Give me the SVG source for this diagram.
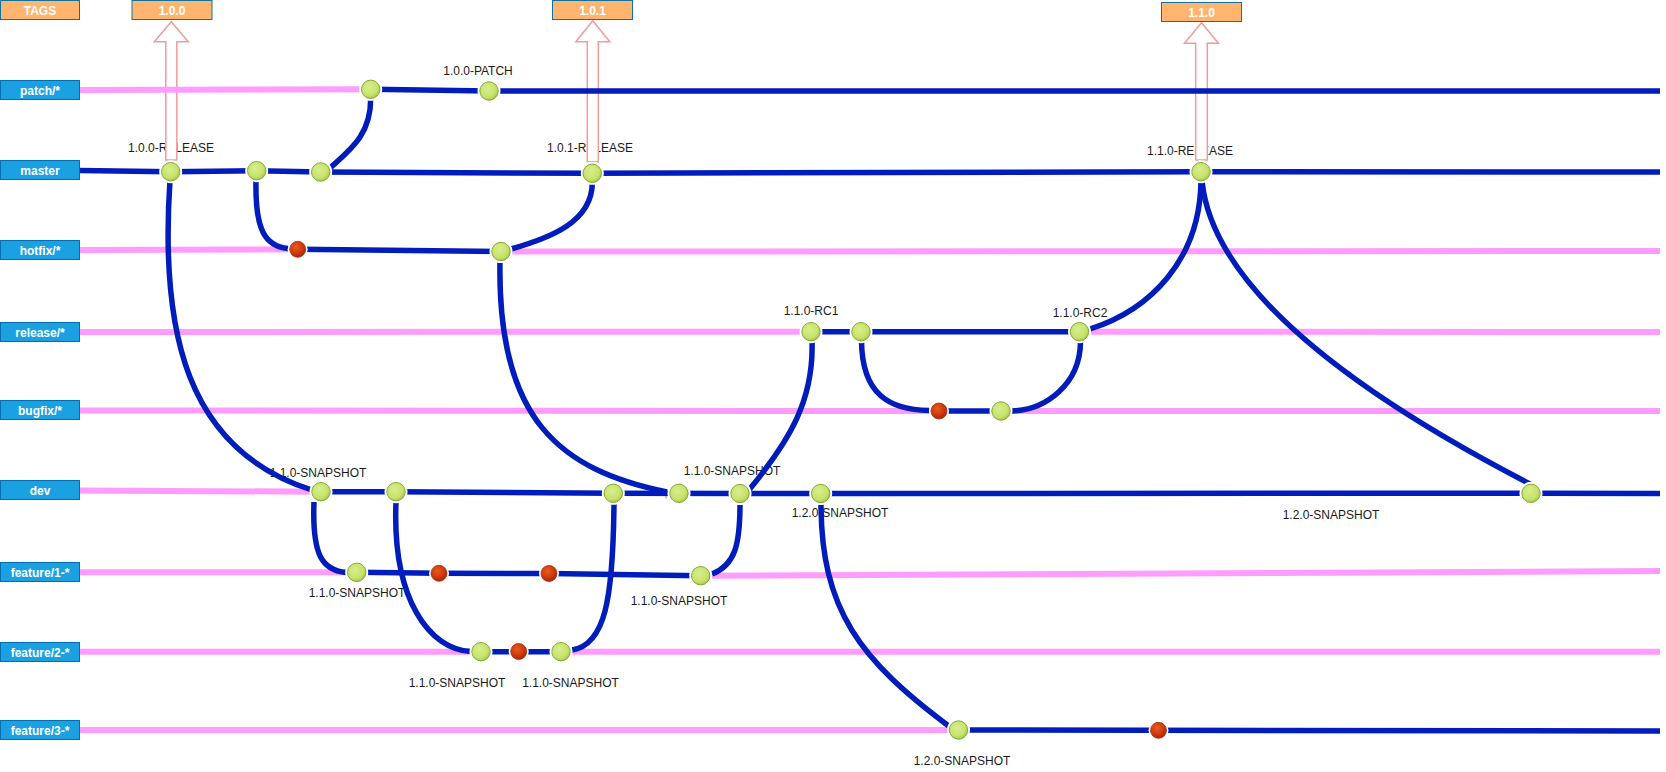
<svg xmlns="http://www.w3.org/2000/svg" width="1666" height="772" viewBox="0 0 1666 772">
<style>
.box{fill:#1BA1E2;stroke:#006EAF;stroke-width:1}
.tag{fill:#FFB570;stroke:#10739E;stroke-width:1}
.bt{font-family:"Liberation Sans",Arial,sans-serif;font-size:12px;font-weight:bold;fill:#fff;text-anchor:middle}
.lbl{font-family:"Liberation Sans",Arial,sans-serif;font-size:12px;fill:#1a1a1a;text-anchor:middle}
.arr{fill:#fff;stroke:#F19C99;stroke-width:1.5}
.pk{fill:none;stroke:#FF9CFF;stroke-width:6}
.bu{fill:none;stroke:#001DBC;stroke-width:5.5}
.halo{fill:#fff}
.g{fill:url(#gGreen);stroke:#86A83A;stroke-width:1}
.r{fill:url(#gRed);stroke:#A8300E;stroke-width:0.8}
</style>
<defs>
<radialGradient id="gGreen" cx="0.42" cy="0.38" r="0.65">
<stop offset="0" stop-color="#D8EF8E"/>
<stop offset="0.7" stop-color="#C6E26A"/>
<stop offset="1" stop-color="#A4C444"/>
</radialGradient>
<radialGradient id="gRed" cx="0.4" cy="0.35" r="0.7">
<stop offset="0" stop-color="#EA5A1E"/>
<stop offset="0.6" stop-color="#CC3A0C"/>
<stop offset="1" stop-color="#A32006"/>
</radialGradient>
</defs>
<rect width="1666" height="772" fill="#fff"/>

<g id="branch-labels">
<g id="lbl-tags"><rect class="tag" x="0.5" y="0.5" width="79" height="19"/><text class="bt" x="40" y="14.5">TAGS</text></g>
<g id="lbl-patch"><rect class="box" x="0.5" y="80.5" width="79" height="19"/><text class="bt" x="40" y="94.5">patch/*</text></g>
<g id="lbl-master"><rect class="box" x="0.5" y="160.5" width="79" height="19"/><text class="bt" x="40" y="174.5">master</text></g>
<g id="lbl-hotfix"><rect class="box" x="0.5" y="240.5" width="79" height="19"/><text class="bt" x="40" y="254.5">hotfix/*</text></g>
<g id="lbl-release"><rect class="box" x="0.5" y="322.5" width="79" height="19"/><text class="bt" x="40" y="336.5">release/*</text></g>
<g id="lbl-bugfix"><rect class="box" x="0.5" y="400.5" width="79" height="19"/><text class="bt" x="40" y="414.5">bugfix/*</text></g>
<g id="lbl-dev"><rect class="box" x="0.5" y="480.5" width="79" height="19"/><text class="bt" x="40" y="494.5">dev</text></g>
<g id="lbl-feature1"><rect class="box" x="0.5" y="562.5" width="79" height="19"/><text class="bt" x="40" y="576.5">feature/1-*</text></g>
<g id="lbl-feature2"><rect class="box" x="0.5" y="642.5" width="79" height="19"/><text class="bt" x="40" y="656.5">feature/2-*</text></g>
<g id="lbl-feature3"><rect class="box" x="0.5" y="720.5" width="79" height="19"/><text class="bt" x="40" y="734.5">feature/3-*</text></g>
</g>

<g id="commit-labels">
<text class="lbl" x="171" y="152">1.0.0-RELEASE</text>
<text class="lbl" x="478" y="75">1.0.0-PATCH</text>
<text class="lbl" x="590" y="152">1.0.1-RELEASE</text>
<text class="lbl" x="1190" y="155">1.1.0-RELEASE</text>
<text class="lbl" x="811" y="315">1.1.0-RC1</text>
<text class="lbl" x="1080" y="316.5">1.1.0-RC2</text>
<text class="lbl" x="318" y="477">1.1.0-SNAPSHOT</text>
<text class="lbl" x="732" y="475">1.1.0-SNAPSHOT</text>
<text class="lbl" x="840" y="516.5">1.2.0-SNAPSHOT</text>
<text class="lbl" x="1331" y="519">1.2.0-SNAPSHOT</text>
<text class="lbl" x="357" y="596.5">1.1.0-SNAPSHOT</text>
<text class="lbl" x="679" y="605">1.1.0-SNAPSHOT</text>
<text class="lbl" x="457" y="686.5">1.1.0-SNAPSHOT</text>
<text class="lbl" x="570.5" y="686.5">1.1.0-SNAPSHOT</text>
<text class="lbl" x="962" y="765">1.2.0-SNAPSHOT</text>
</g>

<g id="tags">
<g id="tag-100"><path class="arr" d="M171.3,21.7 L188.3,41.7 L176.8,41.7 L176.8,160 L165.8,160 L165.8,41.7 L154.3,41.7 Z"/><rect class="tag" x="132" y="0.5" width="80" height="19"/><text class="bt" x="172" y="14.5">1.0.0</text></g>
<g id="tag-101"><path class="arr" d="M592.8,20.7 L609.8,41.7 L598.3,41.7 L598.3,161.7 L587.3,161.7 L587.3,41.7 L575.8,41.7 Z"/><rect class="tag" x="552.5" y="0.5" width="80" height="19"/><text class="bt" x="592.5" y="14.5">1.0.1</text></g>
<g id="tag-110"><path class="arr" d="M1201.5,22.7 L1218.5,43.3 L1207.3,43.3 L1207.3,160 L1195.7,160 L1195.7,43.3 L1184.5,43.3 Z"/><rect class="tag" x="1161.5" y="2.5" width="80" height="19"/><text class="bt" x="1201.5" y="16.5">1.1.0</text></g>
</g>

<g id="connectors">
<!-- pink (inactive) branch segments -->
<path class="pk" d="M80,90 L370.7,89.3"/>
<path class="pk" d="M80,250 L297.7,249.3"/>
<path class="pk" d="M501,251.5 L1660,251"/>
<path class="pk" d="M80,332 L811,331.7"/>
<path class="pk" d="M1079.5,331.7 L1660,332"/>
<path class="pk" d="M80,410.5 L939,411"/>
<path class="pk" d="M1001,411 L1660,411"/>
<path class="pk" d="M80,490.5 L321,491.7"/>
<path class="pk" d="M80,572.3 L356.7,572.3"/>
<path class="pk" d="M700.7,575.7 L1660,571"/>
<path class="pk" d="M80,651.7 L481,651.7"/>
<path class="pk" d="M561,651.7 L1660,651.7"/>
<path class="pk" d="M80,730 L958.5,730"/>
<path d="M666,494 L666,498.5" stroke="#F19C99" stroke-width="1.5"/>
<!-- blue (active) branch segments -->
<path class="bu" d="M370.7,89.3 L489,91 L1660,91"/>
<path class="bu" d="M80,170.5 L170.7,171.7 L256.7,170.7 L320.7,172 L592.3,173.3 L1201,171.7 L1660,172"/>
<path class="bu" d="M297.7,249.3 L501,251.5"/>
<path class="bu" d="M811,331.7 L1079.5,331.7"/>
<path class="bu" d="M939,411 L1001,411"/>
<path class="bu" d="M321,491.7 L396,491.7 L613.3,493.3 L740,493.5 L1531,493.3 L1660,493.5"/>
<path class="bu" d="M356.7,572.3 L439,573.3 L549,573.5 L700.7,575.7"/>
<path class="bu" d="M481,651.7 L561,651.7"/>
<path class="bu" d="M958.5,730 L1660,731"/>
<!-- merges / forks -->
<path class="bu" d="M370.7,98 C371,135 350,150 330,168"/>
<path class="bu" d="M170,180 C160,330 185,450 312,490"/>
<path class="bu" d="M256,181 C255,230 265,246 288,248.5"/>
<path class="bu" d="M511,249 C550,238 592,222 592.3,183"/>
<path class="bu" d="M500,261 C497,420 560,470 667,492"/>
<path class="bu" d="M812,341 C814,400 790,440 749,490"/>
<path class="bu" d="M861.5,341 C862,395 890,410 929,410.5"/>
<path class="bu" d="M1012,411 C1045,410 1080,385 1080.5,342"/>
<path class="bu" d="M1090,329 C1150,310 1200,260 1201,181"/>
<path class="bu" d="M1202,181 C1210,260 1290,360 1530,484"/>
<path class="bu" d="M314,502 C312,555 322,570 346,572.5"/>
<path class="bu" d="M396,502 C392,600 430,650 471,651.5"/>
<path class="bu" d="M572,650 C605,645 613,600 614,504"/>
<path class="bu" d="M712,574 C735,565 740,545 740,504"/>
<path class="bu" d="M821,503 C821,610 860,660 950,727"/>
</g>

<g id="commits">
<g id="n-patch1" transform="translate(370.7,89.3)"><circle class="halo" r="11.5"/><circle class="g" r="9.2"/></g>
<g id="n-patch2" transform="translate(489,91)"><circle class="halo" r="11.5"/><circle class="g" r="9.2"/></g>
<g id="n-master1" transform="translate(170.7,171.7)"><circle class="halo" r="11.5"/><circle class="g" r="9.2"/></g>
<g id="n-master2" transform="translate(256.7,170.7)"><circle class="halo" r="11.5"/><circle class="g" r="9.2"/></g>
<g id="n-master3" transform="translate(320.7,172)"><circle class="halo" r="11.5"/><circle class="g" r="9.2"/></g>
<g id="n-master4" transform="translate(592.3,173.3)"><circle class="halo" r="11.5"/><circle class="g" r="9.2"/></g>
<g id="n-master5" transform="translate(1201,171.7)"><circle class="halo" r="11.5"/><circle class="g" r="9.2"/></g>
<g id="n-hotfix1" transform="translate(297.7,249.3)"><circle class="halo" r="10"/><circle class="r" r="8"/></g>
<g id="n-hotfix2" transform="translate(501,251.5)"><circle class="halo" r="11.5"/><circle class="g" r="9.2"/></g>
<g id="n-release1" transform="translate(811,331.7)"><circle class="halo" r="11.5"/><circle class="g" r="9.2"/></g>
<g id="n-release2" transform="translate(861,331.7)"><circle class="halo" r="11.5"/><circle class="g" r="9.2"/></g>
<g id="n-release3" transform="translate(1079.5,331.7)"><circle class="halo" r="11.5"/><circle class="g" r="9.2"/></g>
<g id="n-bugfix1" transform="translate(939,411)"><circle class="halo" r="10"/><circle class="r" r="8"/></g>
<g id="n-bugfix2" transform="translate(1001,411)"><circle class="halo" r="11.5"/><circle class="g" r="9.2"/></g>
<g id="n-dev1" transform="translate(321,491.7)"><circle class="halo" r="11.5"/><circle class="g" r="9.2"/></g>
<g id="n-dev2" transform="translate(396,491.7)"><circle class="halo" r="11.5"/><circle class="g" r="9.2"/></g>
<g id="n-dev3" transform="translate(613.3,493.3)"><circle class="halo" r="11.5"/><circle class="g" r="9.2"/></g>
<g id="n-dev4" transform="translate(679,493.3)"><circle class="halo" r="11.5"/><circle class="g" r="9.2"/></g>
<g id="n-dev5" transform="translate(740,493.5)"><circle class="halo" r="11.5"/><circle class="g" r="9.2"/></g>
<g id="n-dev6" transform="translate(820.7,493.5)"><circle class="halo" r="11.5"/><circle class="g" r="9.2"/></g>
<g id="n-dev7" transform="translate(1531,493.3)"><circle class="halo" r="11.5"/><circle class="g" r="9.2"/></g>
<g id="n-feature1a" transform="translate(356.7,572.3)"><circle class="halo" r="11.5"/><circle class="g" r="9.2"/></g>
<g id="n-feature1b" transform="translate(439,573.3)"><circle class="halo" r="10"/><circle class="r" r="8"/></g>
<g id="n-feature1c" transform="translate(549,573.5)"><circle class="halo" r="10"/><circle class="r" r="8"/></g>
<g id="n-feature1d" transform="translate(700.7,575.7)"><circle class="halo" r="11.5"/><circle class="g" r="9.2"/></g>
<g id="n-feature2a" transform="translate(481,651.7)"><circle class="halo" r="11.5"/><circle class="g" r="9.2"/></g>
<g id="n-feature2b" transform="translate(518.7,651.5)"><circle class="halo" r="10"/><circle class="r" r="8"/></g>
<g id="n-feature2c" transform="translate(561,651.7)"><circle class="halo" r="11.5"/><circle class="g" r="9.2"/></g>
<g id="n-feature3a" transform="translate(958.5,730)"><circle class="halo" r="11.5"/><circle class="g" r="9.2"/></g>
<g id="n-feature3b" transform="translate(1158.5,730.3)"><circle class="halo" r="10"/><circle class="r" r="8"/></g>
</g>
</svg>
